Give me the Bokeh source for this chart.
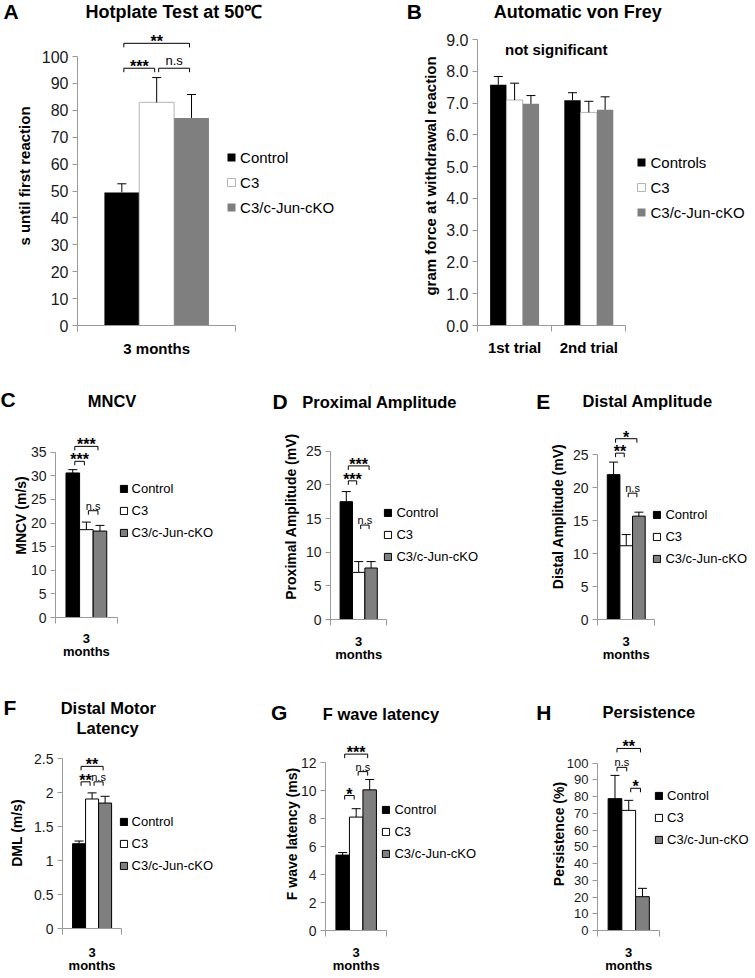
from bokeh.plotting import figure
from bokeh.models import (Range1d, FixedTicker, Legend, LegendItem, Whisker, TeeHead,
                          ColumnDataSource, Label, NumeralTickFormatter, LinearAxis)
from bokeh.layouts import column, row
from bokeh.embed import file_html
from bokeh.resources import INLINE

FONT = "Liberation Sans"

# ---------------- data ----------------
GROUPS = ["Control", "C3", "C3/c-Jun-cKO"]
GROUPS_VF = ["Controls", "C3", "C3/c-Jun-cKO"]

HOT_CATS = ["3 months"]
HOT_MEAN = [49.5, 83.0, 77.2]
HOT_ERR = [3.2, 9.2, 8.7]
HOT_SIG = [("***", 0, 1), ("n.s", 1, 2), ("**", 0, 2)]
HOT_TICKS = [0, 10, 20, 30, 40, 50, 60, 70, 80, 90, 100]

VF_CATS = ["1st trial", "2nd trial"]
VF_CONTROLS = [7.58, 7.09]
VF_C3 = [7.10, 6.71]
VF_CKO = [6.98, 6.79]
VF_CONTROLS_ERR = [0.26, 0.24]
VF_C3_ERR = [0.53, 0.35]
VF_CKO_ERR = [0.26, 0.41]
VF_TICKS = [0, 1, 2, 3, 4, 5, 6, 7, 8, 9]

MONTH_CATS = ["3\nmonths"]

MNCV_MEAN = [30.6, 18.6, 18.3]
MNCV_ERR = [0.7, 1.6, 1.2]
MNCV_SIG = [("***", 0, 2), ("***", 0, 1), ("n.s", 1, 2)]
MNCV_TICKS = [0, 5, 10, 15, 20, 25, 30, 35]

PROX_MEAN = [17.5, 7.0, 7.65]
PROX_ERR = [1.5, 1.6, 0.95]
PROX_SIG = [("***", 0, 2), ("***", 0, 1), ("n.s", 1, 2)]
PROX_TICKS = [0, 5, 10, 15, 20, 25]

DIST_MEAN = [22.0, 11.2, 15.7]
DIST_ERR = [1.9, 1.7, 0.6]
DIST_SIG = [("*", 0, 2), ("**", 0, 1), ("n.s", 1, 2)]
DIST_TICKS = [0, 5, 10, 15, 20, 25]

DML_MEAN = [1.25, 1.91, 1.85]
DML_ERR = [0.04, 0.09, 0.10]
DML_SIG = [("**", 0, 2), ("**", 0, 1), ("n.s", 1, 2)]
DML_TICKS = [0, 0.5, 1, 1.5, 2, 2.5]

FW_MEAN = [5.4, 8.12, 10.07]
FW_ERR = [0.18, 0.6, 0.74]
FW_SIG = [("***", 0, 2), ("n.s", 1, 2), ("*", 0, 1)]
FW_TICKS = [0, 2, 4, 6, 8, 10, 12]

PERS_MEAN = [78.8, 71.8, 20.2]
PERS_ERR = [13.9, 6.0, 5.0]
PERS_SIG = [("**", 0, 2), ("n.s", 0, 1), ("*", 1, 2)]
PERS_TICKS = [0, 10, 20, 30, 40, 50, 60, 70, 80, 90, 100]

# ---------------- styles / geometry (reference pixels) ----------------
FILL = ["#000000", "#ffffff", "#7f7f7f"]
AXIS_COLOR = "#9a9a9a"
BAR_W = 0.22
MID = 0.3465  # text box middle above the baseline, in em

KX = 750 / 753
KY = 976 / 980


def lx(x):
    return x * KX


def ly(y):
    return y * KY


# row: (top, header bottom, row bottom) in reference pixels
ROWS = [(0, 26, 372), (372, 415, 678), (678, 740, 980)]
TOTAL_W_REF = 753

STY_BIG = dict(lines=[None, "#b5b5b5", None], tick_fs="16px", ylab_fs="15px", xlab_fs="15px",
               leg_fs="15px", sw=10, leg_lh=20, leg_sp=5, cap=9, title_fs=18,
               ast_fs=16, ns_fs=13, ast_up=2.0, ns_up=8.2, xlab_lh=1.15)
STY_SMALL = dict(lines=["#000000"] * 3, tick_fs="14px", ylab_fs="14px", xlab_fs="13px",
                 leg_fs="13px", sw=9, leg_lh=17, leg_sp=5, cap=9, title_fs=16.5,
                 ast_fs=16, ns_fs=11, ast_up=1.5, ns_up=5.1, xlab_lh=0.9)

GEO = {
    "A": dict(row=0, fx=(0, 379), ax_l=77, ax_r=236, y0=326, ytop=56,
              leg_x=227, leg_y0=158, sig_y=[68, 68, 43], ylab_so=6, xlab_so=8,
              letter=(3, 18), titles=[("Hotplate Test at 50\u2103", 174, 17.5)]),
    "B": dict(row=0, fx=(379, 753), ax_l=479, ax_r=628, y0=326, ytop=39,
              leg_x=639, leg_y0=163, sig_y=[], ylab_so=4, xlab_so=7,
              letter=(408, 18), titles=[("Automatic von Frey", 579.5, 17.5)]),
    "C": dict(row=1, fx=(0, 252), ax_l=55, ax_r=117, y0=619.3, ytop=453.3,
              leg_x=119, leg_y0=490, sig_y=[447.7, 462.7, 512.3], ylab_so=-1, xlab_so=7,
              letter=(0, 408.3), titles=[("MNCV", 112, 408.3)]),
    "D": dict(row=1, fx=(252, 502), ax_l=331.7, ax_r=388.3, y0=621.7, ytop=452.7,
              leg_x=385, leg_y0=515, sig_y=[467.3, 482.3, 526.7], ylab_so=4, xlab_so=8,
              letter=(273, 410), titles=[("Proximal Amplitude", 380.7, 408.5)]),
    "E": dict(row=1, fx=(502, 753), ax_l=599, ax_r=656.7, y0=621.3, ytop=456,
              leg_x=655, leg_y0=516.7, sig_y=[440, 454.5, 494.7], ylab_so=4, xlab_so=8,
              letter=(538, 410), titles=[("Distal Amplitude", 649.7, 408.3)]),
    "F": dict(row=2, fx=(0, 252), ax_l=62.3, ax_r=121.7, y0=934, ytop=762,
              leg_x=119, leg_y0=827.3, sig_y=[769.3, 785, 785], ylab_so=6, xlab_so=10,
              letter=(3, 716.7), titles=[("Distal Motor", 108.3, 716.5), ("Latency", 107.5, 736)]),
    "G": dict(row=2, fx=(252, 502), ax_l=326.7, ax_r=388.3, y0=934, ytop=765.7,
              leg_x=383, leg_y0=813.3, sig_y=[756.7, 774.3, 798.3], ylab_so=-2, xlab_so=8,
              letter=(271.7, 721.7), titles=[("F wave latency", 382, 721.7)]),
    "H": dict(row=2, fx=(502, 753), ax_l=599, ax_r=661.7, y0=934, ytop=766,
              leg_x=656.7, leg_y0=798.3, sig_y=[751, 770, 791], ylab_so=-3, xlab_so=8,
              letter=(538, 722), titles=[("Persistence", 651, 720)]),
}


def text_label(x, y, txt, fs, style="bold", align="center"):
    return Label(x=x, y=y, text=txt, text_align=align, text_baseline="middle",
                 text_font=FONT, text_font_size=f"{fs}px", text_font_style=style,
                 text_color="black")


def header(ri, keys, styles):
    r0, r1, _ = ROWS[ri]
    top = round(ly(r0))
    hh = round(ly(r1)) - top
    W = round(lx(TOTAL_W_REF))
    h = figure(width=W, height=hh, x_range=Range1d(0, W), y_range=Range1d(0, hh),
               output_backend="svg", toolbar_location=None, x_axis_type=None,
               y_axis_type=None, min_border_left=0, min_border_right=0,
               min_border_top=0, min_border_bottom=0)
    h.outline_line_color = None
    h.frame_align = False

    def hy(yr):
        return hh - (ly(yr) - top)

    for key, sty in zip(keys, styles):
        geo = GEO[key]
        lxr, lyr = geo["letter"]
        h.add_layout(text_label(lx(lxr), hy(lyr - MID * 21), key, 21, align="left"))
        for txt, cx, by_ in geo["titles"]:
            h.add_layout(text_label(lx(cx), hy(by_ - MID * sty["title_fs"]), txt,
                                    sty["title_fs"]))
    return h


def build(key, sty, cats, means, errs, groups, sig, ylabel, yticks, yfmt=None,
          tick_fs=None, extra=None):
    geo = GEO[key]
    _, r1, r2 = ROWS[geo["row"]]
    left = round(lx(geo["fx"][0]))
    W = round(lx(geo["fx"][1])) - left
    ctop = round(ly(r1))
    CH = round(ly(r2)) - ctop

    fl = round(lx(geo["ax_l"])) - left
    fb = round(ly(geo["y0"])) - ctop
    ncat = len(cats)
    ppx = (lx(geo["ax_r"]) - lx(geo["ax_l"])) / ncat
    ymax = yticks[-1]
    ppu = (ly(geo["y0"]) - ly(geo["ytop"])) / ymax

    p = figure(width=W, height=CH, x_range=Range1d(0, (W - fl) / ppx),
               y_range=Range1d(0, fb / ppu), output_backend="svg",
               toolbar_location=None, x_axis_type=None, y_axis_type=None,
               min_border_left=fl, min_border_right=0, min_border_top=0,
               min_border_bottom=CH - fb)
    p.outline_line_color = None
    p.background_fill_color = "white"
    p.border_fill_color = "white"
    p.frame_align = False

    def dx(xr):
        return (lx(xr) - left - fl) / ppx

    def dy(yr):
        return (fb - (ly(yr) - ctop)) / ppu

    renderers = []
    base, lower, upper = [], [], []
    for gi in range(len(groups)):
        xs = [ci + 0.5 + (gi - 1) * BAR_W for ci in range(ncat)]
        r = p.vbar(x=xs, top=means[gi], bottom=0, width=BAR_W, fill_color=FILL[gi],
                   line_color=sty["lines"][gi], line_width=1)
        renderers.append(r)
        for ci in range(ncat):
            base.append(xs[ci])
            lower.append(means[gi][ci])
            upper.append(means[gi][ci] + errs[gi][ci])
    wsrc = ColumnDataSource(dict(base=base, lower=lower, upper=upper))
    p.add_layout(Whisker(source=wsrc, base="base", lower="lower", upper="upper",
                         dimension="height", line_color="black", line_width=1,
                         upper_head=TeeHead(size=sty["cap"], line_color="black", line_width=1),
                         lower_head=None, level="annotation"))

    bx, by = [], []
    for (txt, i, j), yb_ref in zip(sig, geo["sig_y"]):
        ci = 0.5 + (i - 1) * BAR_W
        cj = 0.5 + (j - 1) * BAR_W
        x0 = ci + 2 / ppx
        x1 = cj - 2 / ppx
        yb = dy(yb_ref)
        yl = yb - 4 / ppu
        bx.append([x0, x0, x1, x1])
        by.append([yl, yb, yb, yl])
        if txt == "n.s":
            p.add_layout(text_label((x0 + x1) / 2, dy(yb_ref - sty["ns_up"]), txt,
                                    sty["ns_fs"], style="normal"))
        else:
            p.add_layout(text_label((x0 + x1) / 2, dy(yb_ref - sty["ast_up"]), txt,
                                    sty["ast_fs"]))
    if bx:
        p.multi_line(bx, by, line_color="black", line_width=1)

    if extra:
        for txt, cx, by_, fs in extra:
            p.add_layout(text_label(dx(cx), dy(by_ - MID * fs), txt, fs))

    ya = LinearAxis(bounds=(0, ymax), ticker=FixedTicker(ticks=yticks, minor_ticks=[]),
                    axis_label=ylabel)
    if yfmt:
        ya.formatter = NumeralTickFormatter(format=yfmt)
    ya.axis_line_color = AXIS_COLOR
    ya.major_tick_line_color = AXIS_COLOR
    ya.minor_tick_line_color = None
    ya.major_tick_out = 5
    ya.major_tick_in = 0
    ya.major_label_standoff = 4
    ya.major_label_text_font = FONT
    ya.major_label_text_font_size = tick_fs or sty["tick_fs"]
    ya.major_label_text_color = "#1a1a1a"
    ya.axis_label_text_font = FONT
    ya.axis_label_text_font_size = sty["ylab_fs"]
    ya.axis_label_text_font_style = "bold"
    ya.axis_label_text_color = "black"
    ya.axis_label_standoff = geo["ylab_so"]
    p.add_layout(ya, "left")

    xa = LinearAxis(bounds=(0, ncat),
                    ticker=FixedTicker(ticks=[c + 0.5 for c in range(ncat)],
                                       minor_ticks=list(range(ncat + 1))),
                    major_label_overrides={c + 0.5: cats[c] for c in range(ncat)})
    xa.axis_line_color = AXIS_COLOR
    xa.major_tick_line_color = None
    xa.major_tick_out = 0
    xa.major_tick_in = 0
    xa.minor_tick_line_color = AXIS_COLOR
    xa.minor_tick_out = 6
    xa.minor_tick_in = 0
    xa.major_label_standoff = geo["xlab_so"]
    xa.major_label_text_font = FONT
    xa.major_label_text_font_size = sty["xlab_fs"]
    xa.major_label_text_font_style = "bold"
    xa.major_label_text_color = "black"
    xa.major_label_text_line_height = sty["xlab_lh"]
    p.add_layout(xa, "below")

    lh, sp = sty["leg_lh"], sty["leg_sp"]
    vx = lx(geo["leg_x"]) - left - fl
    top_px = ly(geo["leg_y0"]) - ctop - lh / 2
    total = len(groups) * lh + (len(groups) - 1) * sp
    vy = fb - (top_px + total)
    legend = Legend(items=[LegendItem(label=g, renderers=[r]) for g, r in zip(groups, renderers)],
                    location=(vx, vy), orientation="vertical",
                    glyph_width=sty["sw"], glyph_height=sty["sw"], label_height=lh,
                    spacing=sp, padding=0, margin=0, label_standoff=4,
                    border_line_color=None, background_fill_alpha=0,
                    label_text_font=FONT, label_text_font_size=sty["leg_fs"],
                    label_text_color="black")
    p.add_layout(legend)
    return p


def per_group(vals):
    return [[v] for v in vals]


pA = build("A", STY_BIG, HOT_CATS, per_group(HOT_MEAN), per_group(HOT_ERR), GROUPS, HOT_SIG,
           "s until first reaction", HOT_TICKS)
pB = build("B", STY_BIG, VF_CATS, [VF_CONTROLS, VF_C3, VF_CKO],
           [VF_CONTROLS_ERR, VF_C3_ERR, VF_CKO_ERR], GROUPS_VF, [],
           "gram force at withdrawal reaction", VF_TICKS, yfmt="0.0",
           extra=[("not significant", 558, 54.3, 15)])
pC = build("C", STY_SMALL, MONTH_CATS, per_group(MNCV_MEAN), per_group(MNCV_ERR), GROUPS,
           MNCV_SIG, "MNCV (m/s)", MNCV_TICKS)
pD = build("D", STY_SMALL, MONTH_CATS, per_group(PROX_MEAN), per_group(PROX_ERR), GROUPS,
           PROX_SIG, "Proximal Amplitude (mV)", PROX_TICKS)
pE = build("E", STY_SMALL, MONTH_CATS, per_group(DIST_MEAN), per_group(DIST_ERR), GROUPS,
           DIST_SIG, "Distal Amplitude (mV)", DIST_TICKS)
pF = build("F", STY_SMALL, MONTH_CATS, per_group(DML_MEAN), per_group(DML_ERR), GROUPS,
           DML_SIG, "DML (m/s)", DML_TICKS, yfmt="0.[0]")
pG = build("G", STY_SMALL, MONTH_CATS, per_group(FW_MEAN), per_group(FW_ERR), GROUPS,
           FW_SIG, "F wave latency (ms)", FW_TICKS)
pH = build("H", STY_SMALL, MONTH_CATS, per_group(PERS_MEAN), per_group(PERS_ERR), GROUPS,
           PERS_SIG, "Persistence (%)", PERS_TICKS, tick_fs="13px")

h1 = header(0, ["A", "B"], [STY_BIG, STY_BIG])
h2 = header(1, ["C", "D", "E"], [STY_SMALL] * 3)
h3 = header(2, ["F", "G", "H"], [STY_SMALL] * 3)

layout = column(h1, row(pA, pB, spacing=0), h2, row(pC, pD, pE, spacing=0),
                h3, row(pF, pG, pH, spacing=0), spacing=0)

with open("out.html", "w") as f:
    f.write(file_html(layout, INLINE))
